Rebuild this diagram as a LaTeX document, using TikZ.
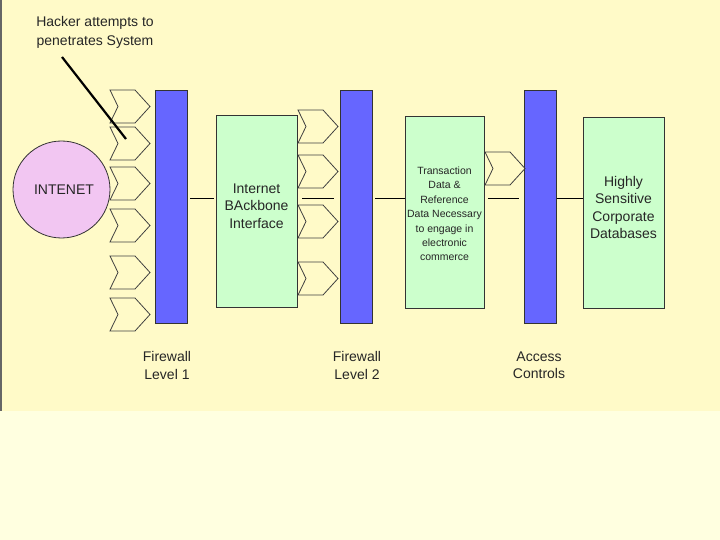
\documentclass[tikz,border=0pt]{standalone}
\usepackage{fontspec}
\setmainfont{Liberation Sans}
\definecolor{bgup}{RGB}{255,250,200}
\definecolor{bglow}{RGB}{255,255,224}
\definecolor{barblue}{RGB}{102,102,255}
\definecolor{boxgreen}{RGB}{204,255,204}
\definecolor{netpink}{RGB}{242,198,242}
\begin{document}
\begin{tikzpicture}[x=1pt,y=-1pt,
  bar/.style={draw=black!80, fill=barblue, minimum width=32pt, minimum height=233pt, inner sep=0pt, line width=0.8pt},
  gbox/.style={draw=black!80, fill=boxgreen, inner sep=0pt, line width=0.8pt},
  txt/.style={align=center, font=\fontsize{14}{17.5}\selectfont, text=black!85, inner sep=0pt},
  smalltxt/.style={align=center, font=\fontsize{10.5}{14.4}\selectfont, text=black!85, inner sep=0pt},
  chevline/.style={draw=black!75, line width=0.8pt, line join=miter},
  conn/.style={draw=black, line width=0.8pt},
  chev/.pic={\path[chevline] (0,0) -- (25,0) -- (40,16.5) -- (25,33) -- (0,33) -- (8,16.5) -- cycle;}
]
\useasboundingbox (0,0) rectangle (720,540);
\fill[bgup] (0,0) rectangle (720,411);
\fill[bglow] (0,411) rectangle (720,540);
\draw[black!60, line width=1.5pt] (1,0) -- (1,411);

% Internet cloud
\node[circle, draw=black!80, fill=netpink, minimum size=97pt, inner sep=0pt, line width=0.8pt] (net) at (61.5,189.5) {};
\node[txt] (nett) at (64,190) {INTENET};

% firewall bars
\node[bar] (fw1) at (171,206.5) {};
\node[bar] (fw2) at (356,206.5) {};
\node[bar] (fw3) at (540.5,207) {};

% green boxes
\node[gbox, minimum width=81pt, minimum height=192pt] (ibi) at (256.5,211) {};
\node[txt] (ibit) at (256.5,206) {Internet\\BAckbone\\Interface};
\node[gbox, minimum width=79pt, minimum height=192pt] (trans) at (444.5,212) {};
\node[smalltxt] (transt) at (444.5,214) {Transaction\\Data \&\\Reference\\Data Necessary\\to engage in\\electronic\\commerce};
\node[gbox, minimum width=81pt, minimum height=191pt] (db) at (623.5,212.5) {};
\node[txt] (dbt) at (623.5,207.5) {Highly\\Sensitive\\Corporate\\Databases};

% chevrons
\foreach \yy [count=\i] in {90,127,167,209,256,298} {\pic (ca\i) at (110,\yy) {chev};}
\foreach \yy [count=\i] in {110,155,205,262} {\pic (cb\i) at (298,\yy) {chev};}
\pic (cc1) at (485,152) {chev};

% connectors
\coordinate (l1a) at (190,198); \coordinate (l1b) at (214,198);
\coordinate (l2a) at (302,198); \coordinate (l2b) at (334,198);
\coordinate (l3a) at (375,198);
\coordinate (l4a) at (488,198); \coordinate (l4b) at (519,198);
\draw[conn] (l1a) -- (l1b);
\draw[conn] (l2a) -- (l2b);
\draw[conn] (l3a) -- (l3a -| trans.west);
\draw[conn] (l4a) -- (l4b);
\draw[conn] (fw3.east |- l4a) -- (db.west |- l4a);

% labels
\node[txt] (lab1) at (167,365.5) {Firewall\\Level 1};
\node[txt] (lab2) at (357,365.5) {Firewall\\Level 2};
\node[txt] (lab3) at (539,365.5) {Access\\Controls};

% hacker
\node[txt, font=\fontsize{14}{19}\selectfont] (hack) at (95,32) {Hacker attempts to\\penetrates System};
\coordinate (hs) at (62,57);
\coordinate (he) at (126,139);
\draw[black, line width=2.2pt] (hs) -- (he);
\end{tikzpicture}
\end{document}
